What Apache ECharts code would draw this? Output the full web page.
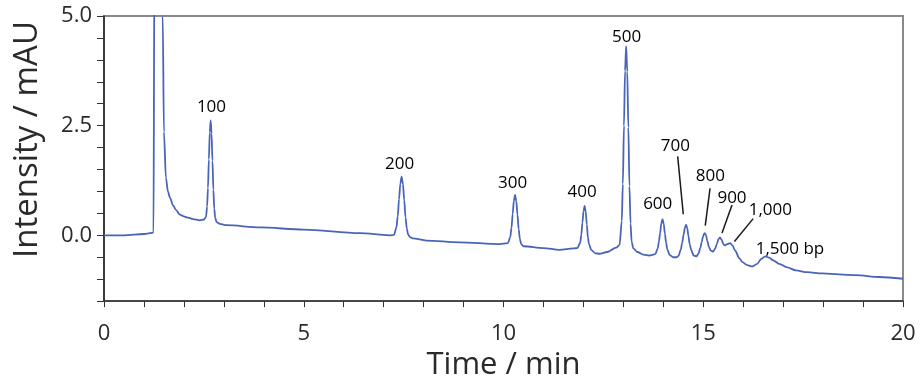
<!DOCTYPE html>
<html><head><meta charset="utf-8">
<script src="https://cdn.jsdelivr.net/npm/echarts@6/dist/echarts.min.js"></script>
<style>html,body{margin:0;padding:0;background:#fff}#c{width:923px;height:386px}</style>
</head><body><div id="c"></div>
<script>
const times = [0,0.5,1.0,1.24,1.25,1.27,1.35,1.46,1.47,1.5,1.55,1.6,1.65,1.73,1.8,1.9,2.0,2.07,2.23,2.4,2.5,2.555,2.58,2.6025,2.625,2.6475,2.67,2.6925,2.715,2.7375,2.76,2.7825,2.82,2.9,3.07,3.9,5,6.4,7.15,7.26,7.32,7.3525,7.385,7.4175,7.45,7.4825,7.515,7.5475,7.58,7.6125,7.66,7.73,8.07,8.9,9.9,10.11,10.17,10.2,10.23,10.26,10.29,10.32,10.35,10.38,10.41,10.44,10.5,11.0,11.4,11.75,11.85,11.92,11.9475,11.975,12.0025,12.03,12.0575,12.085,12.1125,12.14,12.2,12.3,12.4,12.6,12.82,12.905,12.96,12.9875,13.015,13.0425,13.07,13.0975,13.125,13.1525,13.18,13.2075,13.25,13.35,13.5,13.65,13.8,13.86,13.89,13.92,13.95,13.98,14.01,14.04,14.07,14.1,14.16,14.25,14.33,14.38,14.44,14.47,14.51,14.54,14.57,14.6,14.63,14.66,14.7,14.76,14.83,14.88,14.93,14.96,14.99,15.02,15.04,15.07,15.1,15.14,15.19,15.25,15.3,15.34,15.38,15.42,15.46,15.5,15.54,15.6,15.67,15.73,15.8,15.9,15.98,16.1,16.23,16.35,16.45,16.55,16.65,16.75,16.9,17.1,17.32,17.6,17.98,18.4,18.82,19.4,20];
const intensity = [0,0,0.03,0.06,0.07,8,8,8,5.0,2.36,1.31,1.0,0.86,0.68,0.58,0.47,0.43,0.41,0.37,0.34,0.36,0.42,0.66,1.08,1.73,2.35,2.62,2.32,1.70,1.04,0.61,0.40,0.30,0.26,0.23,0.18,0.13,0.05,0.0,0.01,0.18,0.43,0.82,1.18,1.34,1.17,0.80,0.41,0.15,0.02,-0.04,-0.07,-0.12,-0.16,-0.2,-0.18,-0.04,0.17,0.49,0.79,0.92,0.78,0.47,0.14,-0.08,-0.2,-0.25,-0.29,-0.33,-0.3,-0.29,-0.17,0.01,0.29,0.55,0.67,0.54,0.25,-0.05,-0.2,-0.34,-0.41,-0.42,-0.38,-0.28,-0.22,0.32,1.17,2.5,3.75,4.31,3.73,2.46,1.12,0.27,-0.15,-0.3,-0.38,-0.44,-0.46,-0.43,-0.3,-0.15,0.05,0.27,0.37,0.26,0.04,-0.17,-0.32,-0.45,-0.5,-0.5,-0.47,-0.32,-0.18,0.02,0.17,0.24,0.16,-0.02,-0.2,-0.34,-0.46,-0.48,-0.42,-0.28,-0.16,-0.04,0.03,0.05,0.0,-0.12,-0.26,-0.35,-0.37,-0.3,-0.2,-0.09,-0.05,-0.1,-0.2,-0.23,-0.2,-0.18,-0.23,-0.35,-0.52,-0.61,-0.68,-0.71,-0.65,-0.54,-0.48,-0.51,-0.57,-0.65,-0.73,-0.8,-0.84,-0.87,-0.89,-0.91,-0.95,-0.99];

const peakLabels = ["100","200","300","400","500","600","700","800","900","1,000","1,500 bp"];
const labelTimes = [2.69,7.4,10.23,11.97,13.08,13.86,14.3,15.18,15.72,16.68,17.17];
const labelValues = [2.97,1.67,1.25,1.04,4.57,0.76,2.09,1.40,0.91,0.62,-0.27];

const leaderFrom = [[14.36,1.80],[15.17,1.07],[15.72,0.69],[16.25,0.38]];
const leaderTo = [[14.5,0.48],[15.05,0.22],[15.47,0.05],[15.78,-0.14]];

const xTickLabels = [0,5,10,15,20];
const yTickLabels = [0,2.5,5];

const FONT = "'Open Sans', sans-serif";
const chart = echarts.init(document.getElementById('c'));
chart.setOption({
  animation: false,
  grid: {left:104, right:20, top:16, bottom:82, show:true, borderColor:'#8a8a8a', borderWidth:2, backgroundColor:'transparent'},
  xAxis: {
    type:'value', min:0, max:20, interval:1,
    name:'Time / min', nameLocation:'middle', nameGap:45,
    nameTextStyle:{fontFamily:FONT, fontSize:31, color:'#2a2a2a'},
    axisLine:{show:true, onZero:false, lineStyle:{color:'#333', width:1.5}},
    axisTick:{show:true, length:6, lineStyle:{color:'#333'}},
    axisLabel:{fontFamily:FONT, fontSize:22, color:'#2a2a2a', margin:22,
      formatter:v=> xTickLabels.includes(v) ? String(v) : ''},
    splitLine:{show:false}
  },
  yAxis: {
    type:'value', min:-1.5, max:5, interval:0.5,
    name:'Intensity / mAU', nameLocation:'middle', nameGap:60, nameRotate:90,
    nameTextStyle:{fontFamily:FONT, fontSize:33, color:'#2a2a2a', padding:[0,0,0,38]},
    axisLine:{show:true, onZero:false, lineStyle:{color:'#222', width:1.5}},
    axisTick:{show:true, length:7, lineStyle:{color:'#333'}},
    axisLabel:{fontFamily:FONT, fontSize:22, color:'#2a2a2a', margin:12,
      formatter:v=> yTickLabels.some(t=>Math.abs(t-v)<1e-9) ? v.toFixed(1) : ''},
    splitLine:{show:false}
  },
  series: [
    {
      type:'line', data: times.map((t,i)=>[t,intensity[i]]),
      showSymbol:false, smooth:0.3, smoothMonotone:'x', clip:true,
      lineStyle:{color:'#4a64b8', width:1.8}
    },
    {
      type:'scatter', symbolSize:0, silent:true, itemStyle:{color:'#000', opacity:1},
      data: peakLabels.map((n,i)=>({name:n, value:[labelTimes[i], labelValues[i]]})),
      label:{show:true, position:'top', distance:-11, formatter:p=>p.name, fontFamily:FONT, fontSize:17, color:'#000', opacity:1, textBorderWidth:0},
      markLine:{
        silent:true, symbol:['none','none'], label:{show:false},
        lineStyle:{color:'#1a1a1a', width:1.5, type:'solid', opacity:1},
        data: leaderFrom.map((f,i)=>[{coord:f},{coord:leaderTo[i]}])
      }
    }
  ]
});
</script></body></html>
